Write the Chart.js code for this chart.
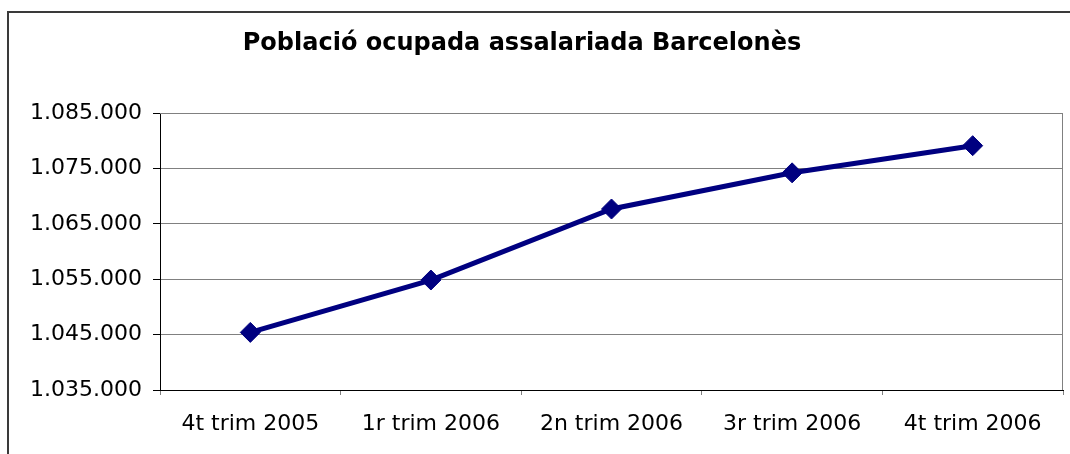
<!DOCTYPE html>
<html>
<head>
<meta charset="utf-8">
<script src="https://cdn.jsdelivr.net/npm/chart.js@4"></script>
<style>
html,body{margin:0;padding:0;background:#fff;overflow:hidden;}
#wrap{position:relative;width:1070px;height:454px;overflow:hidden;}
#frame{position:absolute;left:7px;top:11px;width:1100px;height:500px;border-left:2px solid #3a3a3a;border-top:2px solid #3a3a3a;pointer-events:none;}
canvas{position:absolute;left:0;top:0;}
</style>
</head>
<body>
<div id="wrap">
<canvas id="c" width="1070" height="454"></canvas>
<div id="frame"></div>
</div>
<script>
const titleText = 'Població ocupada assalariada Barcelonès';
const categories = ['4t trim 2005', '1r trim 2006', '2n trim 2006', '3r trim 2006', '4t trim 2006'];
const values = [1045400, 1054850, 1067670, 1074200, 1079100];
const yMin = 1035000, yMax = 1085000, yStep = 10000;

function fmt(v){
  return String(Math.round(v)).replace(/\B(?=(\d{3})+(?!\d))/g, '.');
}

const areaBorder = {
  id: 'areaBorder',
  afterDraw(chart){
    const a = chart.chartArea, ctx = chart.ctx;
    ctx.save();
    ctx.strokeStyle = '#808080';
    ctx.lineWidth = 1;
    ctx.beginPath();
    ctx.moveTo(a.left, a.top + 0.5);
    ctx.lineTo(a.right - 0.5, a.top + 0.5);
    ctx.lineTo(a.right - 0.5, a.bottom);
    ctx.stroke();
    ctx.restore();
  }
};

const titleDraw = {
  id: 'titleDraw',
  afterDraw(chart){
    const ctx = chart.ctx;
    ctx.save();
    ctx.fillStyle = '#000';
    ctx.font = 'bold 24px "DejaVu Sans"';
    ctx.textAlign = 'center';
    ctx.textBaseline = 'middle';
    ctx.fillText(titleText, 522, 44);
    ctx.restore();
  }
};

new Chart(document.getElementById('c'), {
  type: 'line',
  data: {
    labels: categories,
    datasets: [{
      data: values,
      borderColor: '#000080',
      backgroundColor: '#000080',
      borderWidth: 5,
      pointStyle: 'rectRot',
      pointRadius: 10,
      pointHoverRadius: 10,
      pointBorderWidth: 1,
      tension: 0,
      fill: false
    }]
  },
  options: {
    responsive: false,
    animation: false,
    events: [],
    layout: { autoPadding: false, padding: { left: 0, right: 7, top: 113, bottom: 0 } },
    plugins: {
      legend: { display: false },
      tooltip: { enabled: false },
      title: { display: false }
    },
    scales: {
      x: {
        offset: true,
        grid: { offset: true, drawOnChartArea: false, drawTicks: true, tickLength: 5, color: '#808080', tickColor: '#808080' },
        border: { display: true, color: '#000', width: 1 },
        ticks: { color: '#000', font: { family: 'DejaVu Sans', size: 22 }, padding: 16, maxRotation: 0, autoSkip: false },
        afterFit(s){ s.height = 64; }
      },
      y: {
        min: yMin, max: yMax,
        grid: { color: '#808080', tickColor: '#000', tickLength: 7, lineWidth: 1 },
        border: { display: true, color: '#000', width: 1 },
        ticks: { stepSize: yStep, color: '#000', font: { family: 'DejaVu Sans', size: 22 }, padding: 11, callback: v => fmt(v) },
        afterFit(s){ s.width = 160; }
      }
    }
  },
  plugins: [areaBorder, titleDraw]
});
</script>
</body>
</html>
